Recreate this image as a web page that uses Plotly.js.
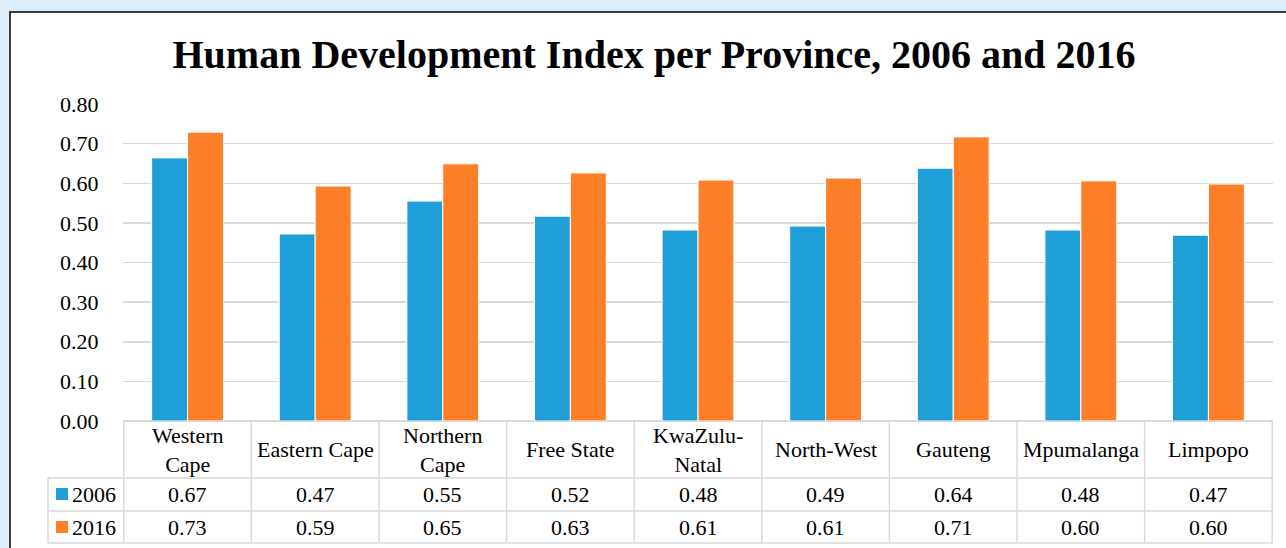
<!DOCTYPE html>
<html>
<head>
<meta charset="utf-8">
<script src="https://cdn.plot.ly/plotly-3.0.1.min.js"></script>
<style>html,body{margin:0;padding:0;background:#dcedf9;}#chart{width:1286px;height:548px;}</style>
</head>
<body>
<div id="chart"></div>
<script>
// ---- data ----
const provinces = ["Western Cape","Eastern Cape","Northern Cape","Free State","KwaZulu-Natal","North-West","Gauteng","Mpumalanga","Limpopo"];
const provinceLabels = ["Western<br>Cape","Eastern Cape","Northern<br>Cape","Free State","KwaZulu-<br>Natal","North-West","Gauteng","Mpumalanga","Limpopo"];
const hdi2006 = [0.664,0.472,0.555,0.517,0.482,0.492,0.638,0.482,0.469];
const hdi2016 = [0.729,0.593,0.649,0.626,0.608,0.613,0.717,0.606,0.598];
const table2006 = ["0.67","0.47","0.55","0.52","0.48","0.49","0.64","0.48","0.47"];
const table2016 = ["0.73","0.59","0.65","0.63","0.61","0.61","0.71","0.60","0.60"];
const seriesNames = ["2006","2016"];
const yTicks = [0,0.1,0.2,0.3,0.4,0.5,0.6,0.7,0.8];

// ---- layout helpers (pixel -> paper) ----
const W = 1286, H = 548;
const px = x => x / W;
const py = y => 1 - y / H;
const plotL = 123, plotR = 1273, plotT = 104, plotB = 421;
const rowCatB = 478, row1B = 511, row2B = 543, tableL = 48;
const BLUE = "#1f9fd8", ORANGE = "#fe7f27", GRID = "#d9d9d9";
const FONT = "Liberation Serif, Times New Roman, serif";
const FS = 22;

const traces = [
  {type:"bar", x:provinces, y:hdi2006, name:seriesNames[0], marker:{color:BLUE, line:{color:"#ffffff", width:1}}, hoverinfo:"skip"},
  {type:"bar", x:provinces, y:hdi2016, name:seriesNames[1], marker:{color:ORANGE, line:{color:"#ffffff", width:1}}, hoverinfo:"skip"}
];

const shapes = [];
const annotations = [];

// white panel with dark border
shapes.push({type:"rect", xref:"paper", yref:"paper", x0:px(10), x1:px(1300), y0:py(12), y1:py(560),
  fillcolor:"#ffffff", line:{color:"#3c3c3c", width:2}, layer:"below"});

// table lines
const hline = (y, x0, x1) => shapes.push({type:"line", xref:"paper", yref:"paper", x0:px(x0), x1:px(x1), y0:py(y), y1:py(y), line:{color:GRID, width:1.5}});
hline(rowCatB, tableL, plotR);
hline(row1B, tableL, plotR);
hline(row2B, tableL, plotR);
// left label column border
shapes.push({type:"line", xref:"paper", yref:"paper", x0:px(tableL), x1:px(tableL), y0:py(rowCatB), y1:py(row2B), line:{color:GRID, width:1.5}});
// vertical separators at category boundaries
for (let i = 0; i <= provinces.length; i++) {
  shapes.push({type:"line", xref:"x", yref:"paper", x0:i-0.5, x1:i-0.5, y0:py(plotB), y1:py(row2B), line:{color:GRID, width:1.5}});
}
// legend keys
shapes.push({type:"rect", xref:"paper", yref:"paper", x0:px(56), x1:px(68), y0:py(488), y1:py(500), fillcolor:BLUE, line:{width:0}});
shapes.push({type:"rect", xref:"paper", yref:"paper", x0:px(56), x1:px(68), y0:py(521), y1:py(533), fillcolor:ORANGE, line:{width:0}});
annotations.push({xref:"paper", yref:"paper", x:px(70), y:py(494.5), xanchor:"left", yanchor:"middle", text:seriesNames[0], showarrow:false, font:{family:FONT, size:FS, color:"#000"}});
annotations.push({xref:"paper", yref:"paper", x:px(70), y:py(527.5), xanchor:"left", yanchor:"middle", text:seriesNames[1], showarrow:false, font:{family:FONT, size:FS, color:"#000"}});

for (let i = 0; i < provinces.length; i++) {
  annotations.push({xref:"x", yref:"paper", x:provinces[i], y:py(449.5), yanchor:"middle", xanchor:"center", text:provinceLabels[i], showarrow:false, font:{family:FONT, size:FS, color:"#000"}});
  annotations.push({xref:"x", yref:"paper", x:provinces[i], y:py(494.5), yanchor:"middle", xanchor:"center", text:table2006[i], showarrow:false, font:{family:FONT, size:FS, color:"#000"}});
  annotations.push({xref:"x", yref:"paper", x:provinces[i], y:py(527.5), yanchor:"middle", xanchor:"center", text:table2016[i], showarrow:false, font:{family:FONT, size:FS, color:"#000"}});
}

const layout = {
  width:W, height:H,
  margin:{l:0, r:0, t:0, b:0, pad:0},
  paper_bgcolor:"#dcedf9",
  plot_bgcolor:"rgba(0,0,0,0)",
  showlegend:false,
  barmode:"group",
  bargap:0.437,
  bargroupgap:0,
  title:{text:"<b>Human Development Index per Province, 2006 and 2016</b>", x:px(654), xanchor:"center", y:py(54), yanchor:"middle", yref:"paper",
    font:{family:FONT, size:40, color:"#000"}},
  xaxis:{domain:[px(plotL), px(plotR)], showticklabels:false, ticks:"", showgrid:false, zeroline:false, showline:false, fixedrange:true},
  yaxis:{domain:[py(plotB), py(plotT)], range:[0,0.8], tickvals:yTicks, tickformat:".2f",
    showgrid:true, gridcolor:GRID, gridwidth:1.5, zeroline:true, zerolinecolor:GRID, zerolinewidth:1.5,
    ticks:"outside", ticklen:19, tickcolor:"rgba(0,0,0,0)", showline:false,
    tickfont:{family:FONT, size:FS, color:"#000"}, fixedrange:true},
  shapes:shapes,
  annotations:annotations
};

Plotly.newPlot("chart", traces, layout, {displayModeBar:false, staticPlot:true});
</script>
</body>
</html>
